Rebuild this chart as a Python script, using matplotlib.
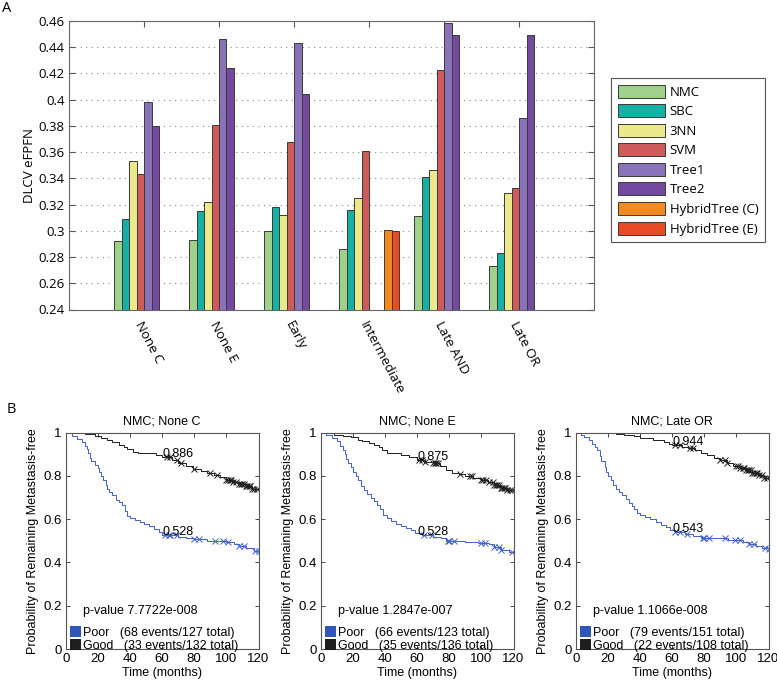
import numpy as np
import matplotlib
matplotlib.use('Agg')
import matplotlib.pyplot as plt
from matplotlib.patches import Patch
import matplotlib.transforms as mtransforms

plt.rcParams['font.family'] = ['Liberation Sans', 'DejaVu Sans']

# ---------------- Panel A data ----------------
groups = ['None C', 'None E', 'Early', 'Intermediate', 'Late AND', 'Late OR']
methods = ['NMC', 'SBC', '3NN', 'SVM', 'Tree1', 'Tree2', 'HybridTree (C)', 'HybridTree (E)']
nan = np.nan
nmc = [0.292, 0.293, 0.300, 0.286, 0.311, 0.273]
sbc = [0.309, 0.315, 0.318, 0.316, 0.341, 0.283]
knn3 = [0.353, 0.322, 0.312, 0.325, 0.346, 0.329]
svm = [0.343, 0.381, 0.368, 0.361, 0.423, 0.333]
tree1 = [0.398, 0.446, 0.443, nan, 0.4585, 0.386]
tree2 = [0.380, 0.424, 0.404, nan, 0.449, 0.449]
hybrid_c = [nan, nan, nan, 0.301, nan, nan]
hybrid_e = [nan, nan, nan, 0.300, nan, nan]
bar_colors = ['#9fd18b', '#17b0a5', '#ece98c', '#cf5a5a', '#8a72b8', '#744aa1', '#f28a23', '#e94b25']
yticks_a = [0.24, 0.26, 0.28, 0.30, 0.32, 0.34, 0.36, 0.38, 0.40, 0.42, 0.44, 0.46]

# ---------------- Panel B data ----------------
km_titles = ['NMC; None C', 'NMC; None E', 'NMC; Late OR']
good_t = [
    [0, 12, 18, 22, 26, 29, 33, 36, 38, 42, 45, 56, 60, 66, 70, 75, 79, 84, 88, 92, 96, 100, 104, 108, 112, 116, 120],
    [0, 8, 14, 19, 23, 26, 30, 33, 36, 38, 41, 50, 55, 60, 65, 70, 74, 78, 82, 86, 90, 95, 100, 104, 108, 112, 116, 120],
    [0, 25, 30, 36, 40, 48, 55, 58, 60, 66, 70, 74, 78, 82, 86, 90, 94, 98, 102, 106, 110, 114, 117, 120],
]
good_s = [
    [1, 0.992, 0.985, 0.975, 0.965, 0.955, 0.945, 0.935, 0.925, 0.912, 0.905, 0.895, 0.886, 0.872, 0.862, 0.848, 0.834, 0.822, 0.812, 0.805, 0.795, 0.783, 0.772, 0.762, 0.752, 0.742, 0.735],
    [1, 0.99, 0.985, 0.978, 0.968, 0.96, 0.952, 0.943, 0.933, 0.922, 0.905, 0.897, 0.887, 0.875, 0.866, 0.858, 0.845, 0.828, 0.815, 0.808, 0.800, 0.790, 0.780, 0.770, 0.758, 0.746, 0.736, 0.726],
    [1, 0.995, 0.99, 0.983, 0.975, 0.966, 0.955, 0.95, 0.944, 0.936, 0.928, 0.918, 0.905, 0.895, 0.885, 0.872, 0.862, 0.848, 0.838, 0.826, 0.815, 0.803, 0.79, 0.777],
]
poor_t = [
    [0, 4, 7, 10, 12, 13, 14, 15, 16, 18, 20, 21, 22, 23, 25, 26, 27, 29, 31, 33, 35, 37, 38, 40, 43, 46, 49, 52, 55, 58, 60, 70, 75, 80, 88, 100, 105, 108, 112, 117, 120],
    [0, 3, 7, 10, 12, 14, 15, 16, 17, 19, 20, 22, 23, 25, 27, 29, 31, 33, 35, 37, 39, 41, 44, 47, 50, 53, 56, 59, 63, 70, 75, 78, 90, 98, 105, 108, 112, 117, 120],
    [0, 3, 5, 8, 10, 12, 13, 15, 16, 18, 19, 20, 22, 23, 25, 27, 29, 31, 33, 35, 36, 38, 40, 43, 46, 50, 53, 56, 59, 62, 68, 73, 78, 95, 104, 108, 112, 116, 120],
]
poor_s = [
    [1, 0.985, 0.97, 0.955, 0.94, 0.925, 0.905, 0.885, 0.87, 0.85, 0.835, 0.82, 0.80, 0.78, 0.76, 0.74, 0.725, 0.71, 0.69, 0.68, 0.665, 0.64, 0.615, 0.605, 0.595, 0.588, 0.58, 0.57, 0.555, 0.54, 0.528, 0.52, 0.515, 0.51, 0.50, 0.495, 0.485, 0.475, 0.465, 0.455, 0.453],
    [1, 0.99, 0.975, 0.96, 0.94, 0.92, 0.90, 0.88, 0.86, 0.84, 0.82, 0.80, 0.78, 0.755, 0.735, 0.715, 0.70, 0.685, 0.665, 0.645, 0.62, 0.605, 0.59, 0.58, 0.57, 0.56, 0.548, 0.538, 0.528, 0.52, 0.513, 0.50, 0.495, 0.49, 0.485, 0.47, 0.46, 0.45, 0.45],
    [1, 0.99, 0.98, 0.965, 0.95, 0.935, 0.92, 0.89, 0.87, 0.84, 0.82, 0.80, 0.78, 0.76, 0.74, 0.725, 0.71, 0.695, 0.675, 0.66, 0.645, 0.63, 0.62, 0.61, 0.60, 0.585, 0.575, 0.562, 0.55, 0.543, 0.533, 0.522, 0.512, 0.505, 0.495, 0.485, 0.478, 0.468, 0.462],
]
good_cens = [
    [63, 65, 69, 72, 80, 90, 94, 100, 101, 102, 103, 104, 106, 108, 109, 110, 111, 112, 113, 114, 115, 116, 117, 119],
    [61, 63, 65, 70, 71, 72, 73, 87, 93, 94, 100, 101, 103, 105, 107, 108, 109, 110, 111, 112, 113, 114, 115, 116, 118, 119],
    [62, 65, 71, 73, 90, 93, 94, 100, 101, 102, 104, 105, 106, 107, 108, 109, 110, 111, 112, 113, 114, 116, 117, 119],
]
poor_cens = [
    [62, 64, 65, 69, 80, 83, 93, 98, 101, 108, 111, 118, 120],
    [64, 69, 79, 80, 83, 100, 102, 108, 111, 112, 119],
    [62, 65, 69, 79, 80, 83, 93, 99, 102, 108, 111, 118, 120],
]
landmark_good = [0.886, 0.875, 0.944]
landmark_poor = [0.528, 0.528, 0.543]
landmark_time = 60
p_values = ['p-value 7.7722e-008', 'p-value 1.2847e-007', 'p-value 1.1066e-008']
poor_labels = ['Poor   (68 events/127 total)', 'Poor   (66 events/123 total)', 'Poor   (79 events/151 total)']
good_labels = ['Good   (33 events/132 total)', 'Good   (35 events/136 total)', 'Good   (22 events/108 total)']
km_xticks = [0, 20, 40, 60, 80, 100, 120]
km_yticks = [0, 0.2, 0.4, 0.6, 0.8, 1]

W, H = 777, 681
fig = plt.figure(figsize=(W / 100, H / 100), dpi=100)

def fbox(l, t, r, b):
    return [l / W, 1 - b / H, (r - l) / W, (b - t) / H]

# ---------------- Panel A ----------------
topfont = 'Open Sans'
ax = fig.add_axes(fbox(69, 21, 594, 309.5))
series = [nmc, sbc, knn3, svm, tree1, tree2, hybrid_c, hybrid_e]
x = np.arange(1, len(groups) + 1)
bw = 0.1
handles = []
for i, (vals, c, name) in enumerate(zip(series, bar_colors, methods)):
    ax.bar(x + (i - 3.5) * bw, vals, width=bw, color=c, edgecolor='#3a3a3a', linewidth=0.7, zorder=3)
    handles.append(Patch(facecolor=c, edgecolor='#3a3a3a', linewidth=0.7, label=name))
ax.set_xlim(0, 7)
ax.set_ylim(0.24, 0.46)
ax.set_yticks(yticks_a)
ax.set_yticklabels([f'{v:g}' for v in yticks_a], fontfamily=topfont, fontsize=9.5)
ax.set_xticks(x)
ax.set_xticklabels(groups, rotation=-62, ha='left', va='top', rotation_mode='anchor',
                   fontfamily=topfont, fontsize=9.5)
offset = mtransforms.ScaledTranslation(2 / 100, 0, fig.dpi_scale_trans)
for lab in ax.get_xticklabels():
    lab.set_transform(lab.get_transform() + offset)
ax.tick_params(axis='both', direction='in', top=True, right=True, length=4, width=0.8, color='#555555')
ax.tick_params(axis='x', pad=7)
ax.tick_params(axis='y', pad=3)
ax.yaxis.grid(True, linestyle=(0, (1, 4)), color='#8a8a8a', linewidth=0.8)
ax.set_axisbelow(True)
for sp in ax.spines.values():
    sp.set_color('#666666')
    sp.set_linewidth(0.8)
ax.set_ylabel('DLCV eFPFN', fontfamily=topfont, fontsize=9.5, labelpad=2)
leg = ax.legend(handles=handles, loc='upper left', bbox_to_anchor=(611 / W, 1 - 78 / H),
                bbox_transform=fig.transFigure, prop={'family': topfont, 'size': 9.5},
                handlelength=3.6, handleheight=1.15, labelspacing=0.42, handletextpad=0.35,
                borderpad=0.5, borderaxespad=0, fancybox=False, framealpha=1, edgecolor='#555555')
leg.get_frame().set_linewidth(0.8)

fig.text(2 / W, 1 - 12 / H, 'A', fontfamily=topfont, fontsize=10.5, va='baseline', ha='left')
fig.text(7 / W, 1 - 413 / H, 'B', fontfamily=topfont, fontsize=10.5, va='baseline', ha='left')

# ---------------- Panel B ----------------
blue = '#3f62c6'
blue_leg = '#2f57b8'
black = '#1e1e1e'
lefts = [65.7, 320.7, 575.7]

def step_val(ts, ss, t):
    idx = np.searchsorted(np.asarray(ts), t, side='right') - 1
    return np.asarray(ss)[idx]

for k in range(3):
    l = lefts[k]
    a = fig.add_axes(fbox(l, 432.7, l + 192.8, 649))
    a.plot(good_t[k], good_s[k], drawstyle='steps-post', color=black, linewidth=0.7)
    a.plot(poor_t[k], poor_s[k], drawstyle='steps-post', color=blue, linewidth=0.7)
    gc = np.array(good_cens[k], dtype=float)
    pc = np.array(poor_cens[k], dtype=float)
    a.plot(gc, step_val(good_t[k], good_s[k], gc), linestyle='none', marker='x', markersize=4,
           markeredgewidth=0.7, color=black)
    a.plot(pc, step_val(poor_t[k], poor_s[k], pc), linestyle='none', marker='x', markersize=4,
           markeredgewidth=0.7, color=blue)
    a.text(landmark_time, landmark_good[k], f'{landmark_good[k]:.3f}', fontsize=9, va='baseline', ha='left')
    a.text(landmark_time, landmark_poor[k], f'{landmark_poor[k]:.3f}', fontsize=9, va='baseline', ha='left')
    a.text(0.09, 0.176, p_values[k], transform=a.transAxes, fontsize=9, va='center', ha='left')
    lh = [Patch(facecolor=blue_leg, edgecolor='none', label=poor_labels[k]),
          Patch(facecolor=black, edgecolor='none', label=good_labels[k])]
    lg = a.legend(handles=lh, loc='lower left', bbox_to_anchor=(0.02, -0.012), frameon=False,
                  fontsize=9, handlelength=0.95, handleheight=0.95, labelspacing=0.0,
                  handletextpad=0.12, borderpad=0, borderaxespad=0)
    a.set_xlim(0, 120)
    a.set_ylim(0, 1)
    a.set_xticks(km_xticks)
    a.set_yticks(km_yticks)
    a.set_yticklabels([f'{v:g}' for v in km_yticks])
    a.tick_params(direction='in', top=True, right=True, length=3, width=0.7, labelsize=9.5,
                  color='#444444', pad=3)
    for sp in a.spines.values():
        sp.set_color('#555555')
        sp.set_linewidth(0.8)
    a.set_title(km_titles[k], fontsize=9, pad=6)
    a.set_xlabel('Time (months)', fontsize=9, labelpad=1)
    a.set_ylabel('Probability of Remaining Metastasis-free', fontsize=9, labelpad=3)

fig.savefig('out.png', dpi=100)
